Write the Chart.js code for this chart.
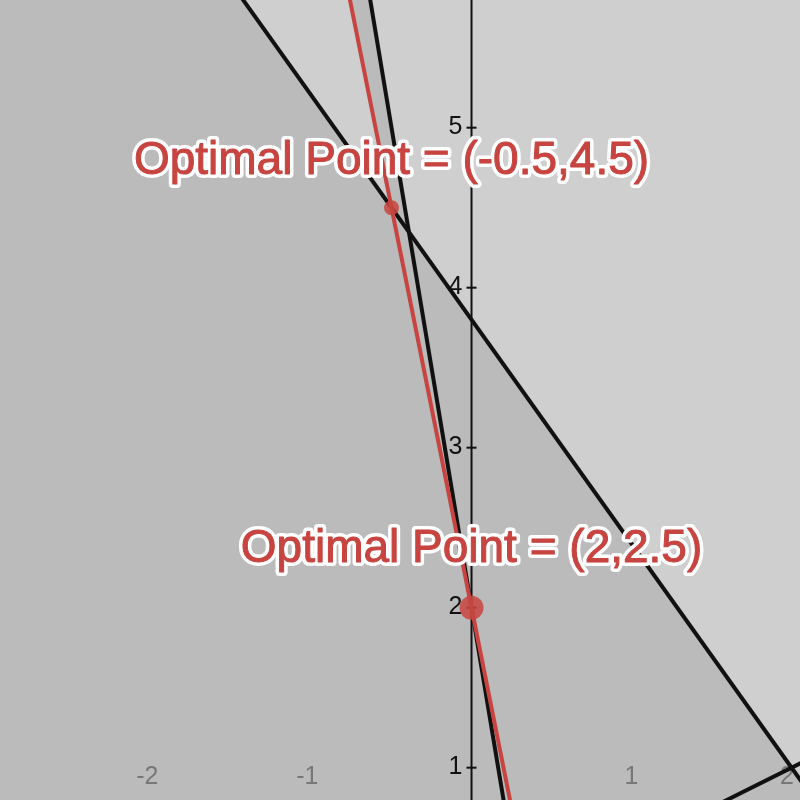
<!DOCTYPE html>
<html>
<head>
<meta charset="utf-8">
<script src="https://cdn.jsdelivr.net/npm/chart.js@4/dist/chart.umd.min.js"></script>
<style>
  html, body { margin: 0; padding: 0; background: #cfcfcf; }
  canvas { display: block; }
</style>
</head>
<body>
<canvas id="grafico" width="800" height="800"></canvas>
<script>
// constraint lines, two end points [x, y] each
const lineaA = [[-3.0, 8.0], [3.0, -0.4]];     // 7x + 5y = 19
const lineaB = [[-0.70, 6.2], [0.30, 0.2]];    // 6x + y = 2
const lineaC = [[1.4, 0.7], [2.2, 1.1]];       // y = x/2
const objetivo = [[-0.80, 6.0], [0.32, 0.4]];  // red line, y = -5x + 2

// optimal points and their labels
const puntosX = [-0.5, 0];
const puntosY = [4.5, 2];
const etiquetas = ['Optimal Point = (-0.5,4.5)', 'Optimal Point = (2,2.5)'];

const ticksX = [-2, -1, 1, 2];
const ticksY = [1, 2, 3, 4, 5];

const ROJO = '#c74440';
const GRIS_OSCURO = '#bbbbbb';
const FUENTE = '"Liberation Sans", Arial, sans-serif';

const aXY = pts => pts.map(p => ({ x: p[0], y: p[1] }));

const linea = (pts, color, orden) => ({
    data: aXY(pts),
    borderColor: color,
    borderWidth: 4,
    pointRadius: 0,
    fill: false,
    order: orden
});

// fondo claro
const fondo = {
    id: 'fondo',
    beforeDraw(chart) {
        const { ctx, width, height } = chart;
        ctx.save();
        ctx.fillStyle = '#cfcfcf';
        ctx.fillRect(0, 0, width, height);
        ctx.restore();
    }
};

// eje y en x = 0 con sus marcas, dibujado encima del sombreado
const ejes = {
    id: 'ejes',
    afterDatasetDraw(chart, args) {
        if (args.index !== 1) return;
        const { ctx, chartArea } = chart;
        const sx = chart.scales.x, sy = chart.scales.y;
        const x0 = sx.getPixelForValue(0);
        ctx.save();
        ctx.strokeStyle = '#111';
        ctx.lineWidth = 2;
        ctx.beginPath();
        ctx.moveTo(x0, chartArea.top);
        ctx.lineTo(x0, chartArea.bottom);
        ctx.stroke();

        ctx.font = '25px ' + FUENTE;
        ctx.fillStyle = '#111';
        ctx.textAlign = 'right';
        ctx.textBaseline = 'middle';
        ticksY.forEach(v => {
            const py = sy.getPixelForValue(v);
            ctx.beginPath();
            ctx.moveTo(x0 - 5, py);
            ctx.lineTo(x0 + 5, py);
            ctx.stroke();
            ctx.fillText(String(v), x0 - 9, py - 1);
        });

        // etiquetas del eje x: el eje queda fuera, van abajo en gris
        ctx.fillStyle = '#777';
        ctx.textAlign = 'left';
        ticksX.forEach(v => {
            const px = sx.getPixelForValue(v);
            const digitos = String(Math.abs(v));
            const texto = String(v);
            const wd = ctx.measureText(digitos).width;
            const wt = ctx.measureText(texto).width;
            let izq = px + wd / 2 - wt;
            if (izq + wt > chartArea.right - 6) izq = chartArea.right - 6 - wt;
            ctx.fillText(texto, izq, 777);
        });
        ctx.restore();
    }
};

// textos de los puntos óptimos
const rotulos = {
    id: 'rotulos',
    afterDatasetsDraw(chart) {
        const { ctx } = chart;
        const sx = chart.scales.x, sy = chart.scales.y;
        const separacion = [34, 46];
        ctx.save();
        ctx.font = '46px ' + FUENTE;
        ctx.textAlign = 'center';
        ctx.textBaseline = 'alphabetic';
        ctx.lineJoin = 'round';
        etiquetas.forEach((t, i) => {
            const px = sx.getPixelForValue(puntosX[i]);
            const py = sy.getPixelForValue(puntosY[i]) - separacion[i];
            ctx.strokeStyle = '#ffffff';
            ctx.lineWidth = 8;
            ctx.strokeText(t, px, py);
            ctx.fillStyle = ROJO;
            ctx.strokeStyle = ROJO;
            ctx.lineWidth = 1;
            ctx.fillText(t, px, py);
            ctx.strokeText(t, px, py);
        });
        ctx.restore();
    }
};

const ctx = document.getElementById('grafico').getContext('2d');

new Chart(ctx, {
    type: 'line',
    data: {
        datasets: [
            {   // región bajo 7x + 5y = 19
                data: aXY(lineaA),
                borderWidth: 0,
                pointRadius: 0,
                backgroundColor: GRIS_OSCURO,
                fill: 'start',
                order: 10
            },
            {   // franja entre la recta roja y 6x + y = 2
                data: aXY([objetivo[0], lineaB[0], lineaB[1], objetivo[1]]),
                borderWidth: 0,
                pointRadius: 0,
                backgroundColor: GRIS_OSCURO,
                fill: 'shape',
                order: 9
            },
            linea(lineaA, '#111', 4),
            linea(lineaB, '#111', 4),
            linea(lineaC, '#111', 4),
            linea(objetivo, ROJO, 3),
            {
                data: puntosX.map((x, i) => ({ x, y: puntosY[i] })),
                showLine: false,
                pointRadius: [7.5, 12],
                pointHoverRadius: [7.5, 12],
                pointBorderWidth: 0,
                pointBackgroundColor: 'rgba(199, 68, 64, 0.85)',
                order: 1
            }
        ]
    },
    options: {
        responsive: false,
        animation: false,
        devicePixelRatio: 1,
        layout: { padding: 0, autoPadding: false },
        elements: { line: { tension: 0 } },
        scales: {
            x: { type: 'linear', min: -2.947, max: 2.053, display: false },
            y: { type: 'linear', min: 0.798, max: 5.798, display: false }
        },
        plugins: {
            legend: { display: false },
            title: { display: false },
            tooltip: { enabled: false }
        }
    },
    plugins: [fondo, ejes, rotulos]
});
</script>
</body>
</html>
